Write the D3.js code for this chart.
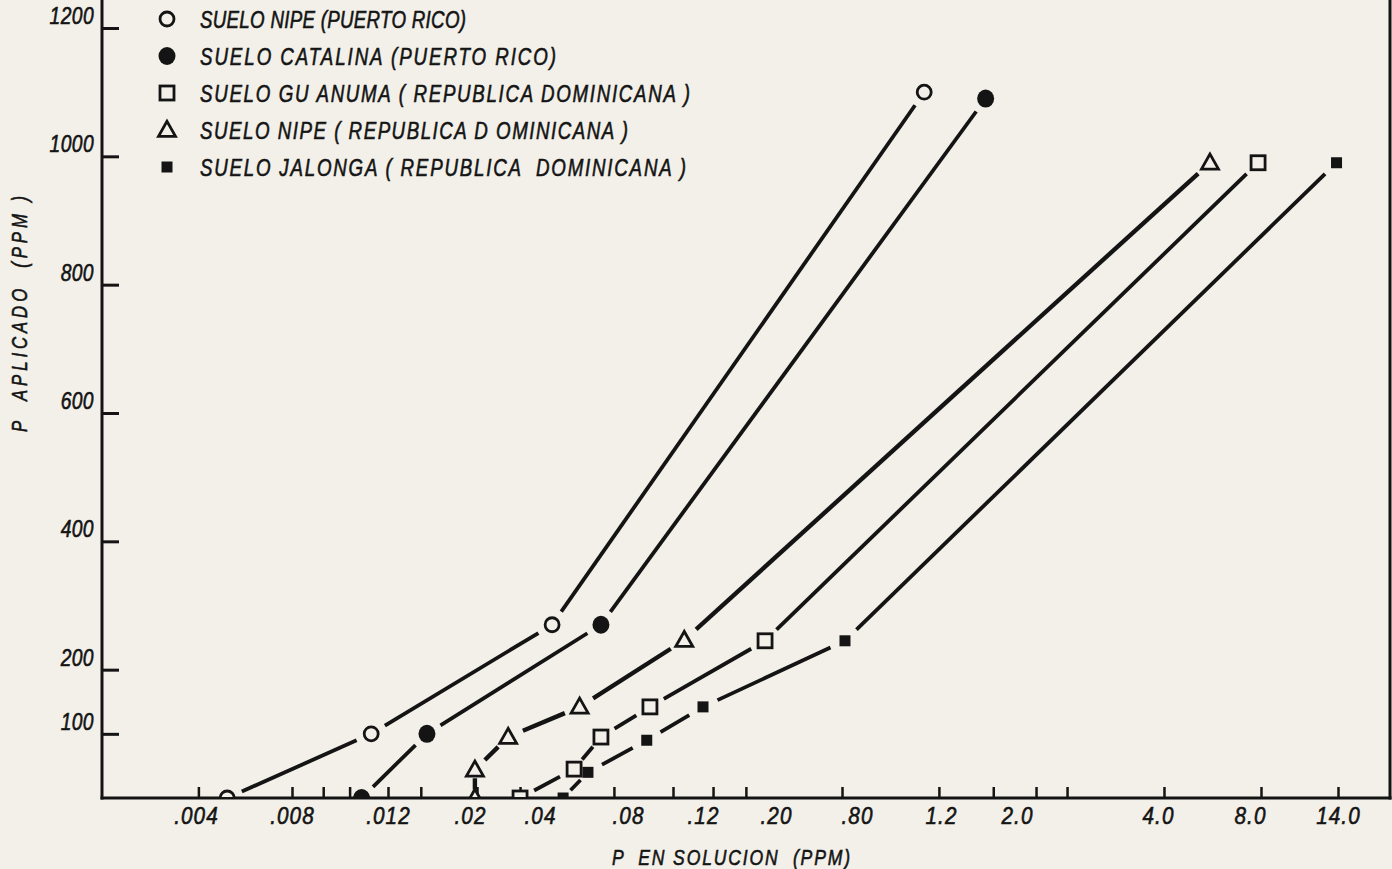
<!DOCTYPE html>
<html>
<head>
<meta charset="utf-8">
<script src="https://cdn.jsdelivr.net/npm/d3@7"></script>
<style>
  html, body { margin: 0; padding: 0; background: #f2f0e9; }
  svg { display: block; }
  text { font-family: "Liberation Sans", Arial, "Noto Sans", sans-serif; font-style: italic; fill: #141414; stroke: #141414; stroke-width: 0.6px; }
</style>
</head>
<body>
<svg id="chart" width="1392" height="869"></svg>
<script>
// ---------------- DATA ----------------
const xTickLabels = [".004", ".008", ".012", ".02", ".04", ".08", ".12", ".20", ".80", "1.2", "2.0", "4.0", "8.0", "14.0"];
const xTickValues = [0.004, 0.008, 0.012, 0.02, 0.04, 0.08, 0.12, 0.20, 0.80, 1.2, 2.0, 4.0, 8.0, 14.0];
const xMarkValues = [0.0041, 0.008, 0.0093, 0.0104, 0.012, 0.0152, 0.022, 0.0343, 0.0736, 0.104, 0.131, 0.167, 0.689, 1.19, 1.75, 2.27, 2.71, 4.26, 8.75, 14.0];
const yTickValues = [100, 200, 400, 600, 800, 1000, 1200];

const seriesNames = [
  "SUELO NIPE (PUERTO RICO)",
  "SUELO CATALINA (PUERTO RICO)",
  "SUELO GU ANUMA ( REPUBLICA DOMINICANA )",
  "SUELO NIPE ( REPUBLICA D OMINICANA )",
  "SUELO JALONGA ( REPUBLICA  DOMINICANA )"
];
const seriesSymbols = ["openCircle", "filledCircle", "openSquare", "openTriangle", "filledSquare"];

const nipePR_x     = [0.0053, 0.0113, 0.0455, 1.12];
const nipePR_y     = [0, 100, 270, 1100];
const catalinaPR_x = [0.0109, 0.0158, 0.0677, 1.67];
const catalinaPR_y = [0, 100, 270, 1090];
const guanumaRD_x  = [0.0343, 0.0555, 0.0677, 0.0917, 0.188, 8.55];
const guanumaRD_y  = [0, 45, 95, 142, 245, 990];
const nipeRD_x     = [0.0214, 0.0214, 0.0309, 0.058, 0.110, 6.26];
const nipeRD_y     = [0, 44, 95, 142, 246, 990];
const jalongaRD_x  = [0.0505, 0.0618, 0.090, 0.12, 0.711, 13.9];
const jalongaRD_y  = [0, 40, 90, 142, 245, 990];

const seriesX = [nipePR_x, catalinaPR_x, guanumaRD_x, nipeRD_x, jalongaRD_x];
const seriesY = [nipePR_y, catalinaPR_y, guanumaRD_y, nipeRD_y, jalongaRD_y];

// ---------------- LAYOUT ----------------
const axisLeft = 102, axisRight = 1390, axisBottom = 798, axisTopPx = 28;
// hand-drawn, non-uniform x axis: pixel position of each labelled value
const xBreakPx = [196, 292, 388, 470, 540, 628, 703, 776, 857, 941, 1017, 1158, 1250, 1338];
// rendered widths of the hand-set legend lettering
const legendWidthPx = [266, 356, 490, 428, 486];
const ink = "#141414", paper = "#f2f0e9";
const narrow = 0.78;   // horizontal condensing of the lettering

const svg = d3.select("#chart");

const x = d3.scaleLinear().domain(xTickValues).range(xBreakPx);
const y = d3.scaleLinear().domain([0, 1200]).range([axisBottom, axisTopPx]);

// frame lines
svg.append("line").attr("x1", axisLeft).attr("x2", axisLeft).attr("y1", 0).attr("y2", axisBottom + 1.5)
  .attr("stroke", ink).attr("stroke-width", 3);
svg.append("line").attr("x1", axisRight).attr("x2", axisRight).attr("y1", 0).attr("y2", axisBottom + 1.5)
  .attr("stroke", ink).attr("stroke-width", 3);
svg.append("line").attr("x1", axisLeft - 1.5).attr("x2", axisRight + 1.5).attr("y1", axisBottom).attr("y2", axisBottom)
  .attr("stroke", ink).attr("stroke-width", 3);

// x tick marks (inward)
const xMarks = svg.append("g").attr("transform", `translate(0,${axisBottom})`)
  .call(d3.axisBottom(x).tickValues(xMarkValues).tickSize(-11).tickFormat(""));
xMarks.select(".domain").remove();
xMarks.selectAll(".tick line").attr("stroke", ink).attr("stroke-width", 2.5);

// x labels
const xLab = svg.append("g").attr("transform", `translate(0,${axisBottom})`)
  .call(d3.axisBottom(x).tickValues(xTickValues).tickSize(0).tickPadding(0)
    .tickFormat((d, i) => xTickLabels[i]));
xLab.select(".domain").remove();
xLab.selectAll(".tick text")
  .attr("y", 0).attr("dy", null)
  .attr("transform", "translate(0,26) scale(0.88,1)")
  .attr("font-size", 23.5).attr("letter-spacing", 1.2)
  .attr("font-family", null).attr("fill", ink);

// y ticks (inward)
const yMarks = svg.append("g").attr("transform", `translate(${axisLeft},0)`)
  .call(d3.axisRight(y).tickValues(yTickValues).tickSize(17).tickFormat(""));
yMarks.select(".domain").remove();
yMarks.selectAll(".tick line").attr("stroke", ink).attr("stroke-width", 3);

// y labels (sit slightly above their tick)
svg.append("g").selectAll("text").data(yTickValues).join("text")
  .attr("transform", d => `translate(94,${y(d) - 4}) scale(0.82,1)`)
  .attr("text-anchor", "end").attr("font-size", 23.5).attr("letter-spacing", 0.5)
  .text(d => d);

// axis titles
svg.append("text").attr("transform", `translate(612,865) scale(${narrow},1)`)
  .attr("font-size", 22.5).style("white-space", "pre")
  .attr("textLength", 238 / narrow).attr("lengthAdjust", "spacing")
  .text("P  EN SOLUCION  (PPM)");
svg.append("text").attr("transform", `translate(27,432) rotate(-90) scale(${narrow},1)`)
  .attr("font-size", 21.5).style("white-space", "pre")
  .attr("textLength", 236 / narrow).attr("lengthAdjust", "spacing")
  .text("P  APLICADO  (PPM )");

// symbols
function drawSymbol(g, type, cx, cy, scale) {
  const s = scale || 1;
  if (type === "openCircle") {
    g.append("circle").attr("cx", cx).attr("cy", cy).attr("r", 7 * s)
      .attr("fill", paper).attr("stroke", ink).attr("stroke-width", 2.8);
  } else if (type === "filledCircle") {
    g.append("ellipse").attr("cx", cx).attr("cy", cy).attr("rx", 8.5 * s).attr("ry", 9 * s).attr("fill", ink);
  } else if (type === "openSquare") {
    const h = 7 * s;
    g.append("rect").attr("x", cx - h).attr("y", cy - h).attr("width", 2 * h).attr("height", 2 * h)
      .attr("fill", paper).attr("stroke", ink).attr("stroke-width", 2.8);
  } else if (type === "openTriangle") {
    const w = 8.5 * s, ht = 15 * s;
    const pts = [[cx, cy - ht * 0.58], [cx - w, cy + ht * 0.42], [cx + w, cy + ht * 0.42]];
    g.append("polygon").attr("points", pts.map(p => p.join(",")).join(" "))
      .attr("fill", paper).attr("stroke", ink).attr("stroke-width", 2.8).attr("stroke-linejoin", "miter");
  } else if (type === "filledSquare") {
    const h = 5.5 * s;
    g.append("rect").attr("x", cx - h).attr("y", cy - h).attr("width", 2 * h).attr("height", 2 * h).attr("fill", ink);
  }
}

// clip so markers sitting on the axis show only their upper half
svg.append("clipPath").attr("id", "plotClip").append("rect")
  .attr("x", axisLeft).attr("y", 0).attr("width", axisRight - axisLeft).attr("height", axisBottom - 1);

const plot = svg.append("g").attr("clip-path", "url(#plotClip)");

seriesX.forEach((xs, si) => {
  const pts = xs.map((v, i) => [x(v), y(seriesY[si][i])]);
  const lw = seriesSymbols[si] === "openTriangle" ? 4.4 : 3.8;
  for (let i = 0; i < pts.length - 1; i++) {
    const [x1, y1] = pts[i], [x2, y2] = pts[i + 1];
    const len = Math.hypot(x2 - x1, y2 - y1);
    const gap = Math.min(16, len * 0.3);
    const ux = (x2 - x1) / len, uy = (y2 - y1) / len;
    plot.append("line")
      .attr("x1", x1 + ux * gap).attr("y1", y1 + uy * gap)
      .attr("x2", x2 - ux * gap).attr("y2", y2 - uy * gap)
      .attr("stroke", ink).attr("stroke-width", lw);
  }
  pts.forEach(p => drawSymbol(plot, seriesSymbols[si], p[0], p[1], 1));
});

// legend
const legendY = [19, 56, 93, 130, 167];
const legend = svg.append("g");
seriesNames.forEach((name, i) => {
  drawSymbol(legend, seriesSymbols[i], 167, legendY[i], 1);
  legend.append("text").attr("transform", `translate(200,${legendY[i] + 8.5}) scale(${narrow},1)`)
    .attr("font-size", 24).style("white-space", "pre")
    .attr("textLength", legendWidthPx[i] / narrow).attr("lengthAdjust", "spacing")
    .text(name);
});
</script>
</body>
</html>
